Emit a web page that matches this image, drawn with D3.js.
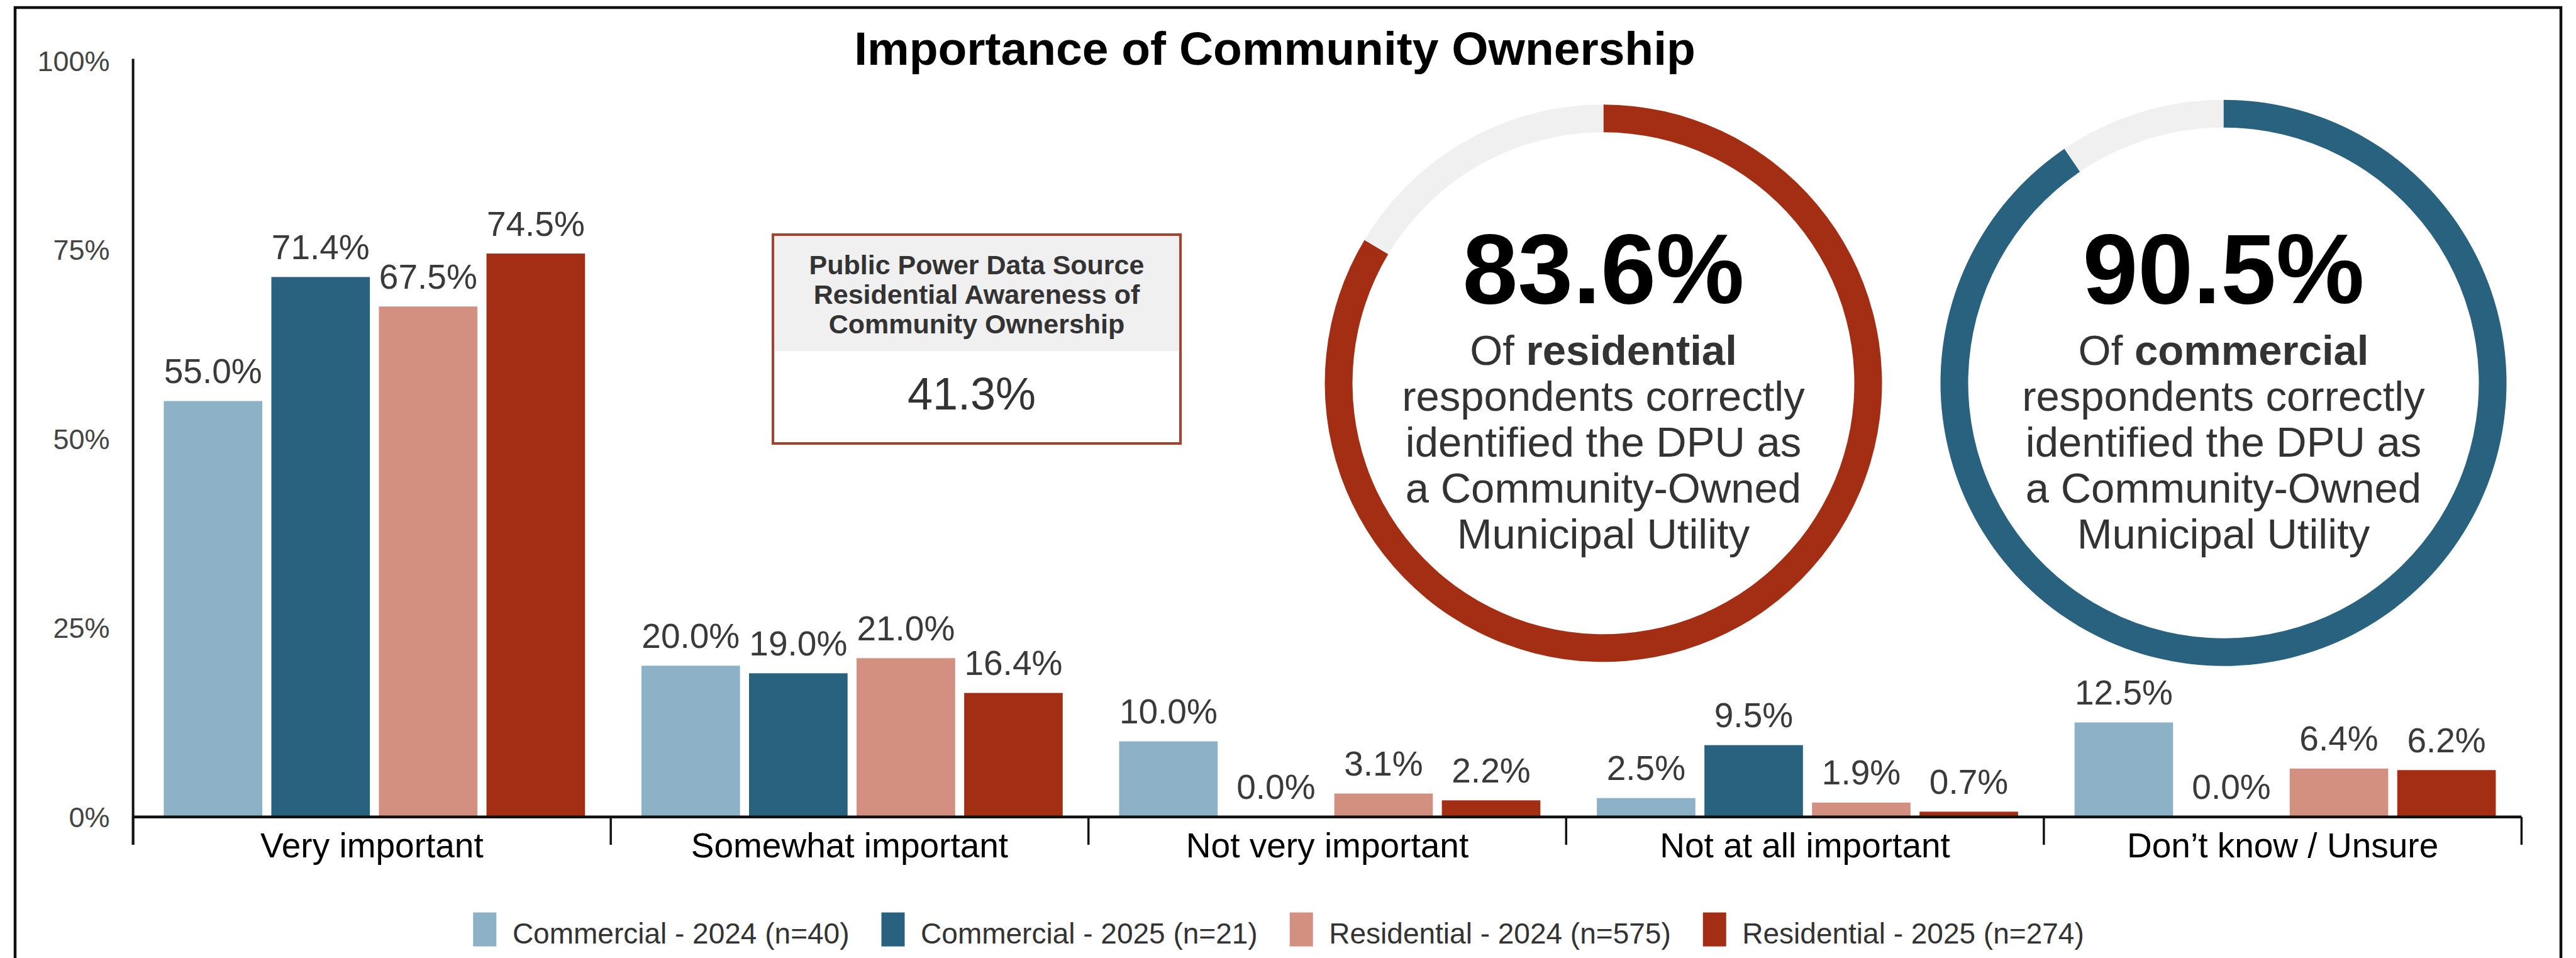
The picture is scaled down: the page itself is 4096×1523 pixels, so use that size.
<!DOCTYPE html>
<html>
<head>
<meta charset="utf-8">
<script src="https://cdn.jsdelivr.net/npm/d3@7"></script>
<style>
  html, body { margin: 0; padding: 0; background: #fff; }
  svg { display: block; font-family: "Liberation Sans", Arial, sans-serif; }
</style>
</head>
<body>
<svg id="chart" width="4096" height="1523"></svg>
<script>
// ---- data ----
const categories = ["Very important", "Somewhat important", "Not very important", "Not at all important", "Don\u2019t know / Unsure"];
const seriesNames = ["Commercial - 2024 (n=40)", "Commercial - 2025 (n=21)", "Residential - 2024 (n=575)", "Residential - 2025 (n=274)"];
const commercial2024 = [55.0, 20.0, 10.0, 2.5, 12.5];
const commercial2025 = [71.4, 19.0, 0.0, 9.5, 0.0];
const residential2024 = [67.5, 21.0, 3.1, 1.9, 6.4];
const residential2025 = [74.5, 16.4, 2.2, 0.7, 6.2];
const seriesColors = ["#8db2c7", "#29627e", "#d39080", "#a32e14"];
const yTicks = [0, 25, 50, 75, 100];

const awarenessTitle = ["Public Power Data Source", "Residential Awareness of", "Community Ownership"];
const awarenessValue = 41.3;

const donuts = [
  { value: 83.6, who: "residential", color: "#a32e14" },
  { value: 90.5, who: "commercial", color: "#29627e" }
];
const donutBody = ["respondents correctly", "identified the DPU as", "a Community-Owned", "Municipal Utility"];

const series = [commercial2024, commercial2025, residential2024, residential2025];

// ---- layout ----
const svg = d3.select("#chart");
const plotLeft = 211.6, plotRight = 4009.4, plotTop = 96.5, plotBottom = 1298.8;

// outer frame
svg.append("rect")
  .attr("x", 24).attr("y", 12).attr("width", 4048).attr("height", 1560)
  .attr("fill", "none").attr("stroke", "#111").attr("stroke-width", 4.5);

// title
svg.append("text")
  .attr("x", 2027).attr("y", 103)
  .attr("text-anchor", "middle")
  .attr("font-weight", "bold").attr("font-size", 75).attr("fill", "#000")
  .text("Importance of Community Ownership");

// scales
const x0 = d3.scaleBand().domain(categories).range([plotLeft, plotRight]).padding(0);
const bw = x0.bandwidth();
const x1 = d3.scaleBand().domain(d3.range(series.length)).range([48.8, 48.8 + 669.8]).paddingInner(0.084).paddingOuter(0);
const y = d3.scaleLinear().domain([0, 100]).range([plotBottom, plotTop]);

// y axis labels
const yAxis = svg.append("g")
  .attr("transform", `translate(${plotLeft},0)`)
  .call(d3.axisLeft(y).tickValues(yTicks).tickSize(0).tickPadding(37).tickFormat(d => d + "%"));
yAxis.select(".domain").remove();
yAxis.selectAll("text")
  .attr("font-size", 45).attr("fill", "#444").attr("font-family", "Liberation Sans, Arial, sans-serif")
  .attr("dy", "0.35em");

// bars
const groups = svg.append("g").selectAll("g")
  .data(categories)
  .join("g")
  .attr("transform", c => `translate(${x0(c)},0)`);

groups.selectAll("rect")
  .data((c, ci) => series.map((s, si) => ({ si, v: s[ci] })))
  .join("rect")
  .attr("x", d => x1(d.si))
  .attr("width", x1.bandwidth())
  .attr("y", d => y(d.v))
  .attr("height", d => y(0) - y(d.v))
  .attr("fill", d => seriesColors[d.si]);

groups.selectAll("text.val")
  .data((c, ci) => series.map((s, si) => ({ si, v: s[ci] })))
  .join("text")
  .attr("class", "val")
  .attr("x", d => x1(d.si) + x1.bandwidth() / 2)
  .attr("y", d => y(d.v) - 28.5)
  .attr("text-anchor", "middle")
  .attr("font-size", 55).attr("fill", "#3a3a3a")
  .text(d => d.v.toFixed(1) + "%");

// x axis: category labels
const xAxis = svg.append("g")
  .attr("transform", `translate(0,${plotBottom})`)
  .call(d3.axisBottom(x0).tickSize(0).tickPadding(0));
xAxis.select(".domain").remove();
xAxis.selectAll("text")
  .attr("font-size", 55).attr("fill", "#000").attr("font-family", "Liberation Sans, Arial, sans-serif")
  .attr("y", 63.8).attr("dy", 0);

// axis lines and category separators
const bounds = categories.map(c => x0(c)).concat([plotRight]);
svg.append("g").selectAll("line")
  .data(bounds)
  .join("line")
  .attr("x1", d => d).attr("x2", d => d)
  .attr("y1", plotBottom).attr("y2", 1343)
  .attr("stroke", "#111").attr("stroke-width", 3.5);
svg.append("line")
  .attr("x1", plotLeft).attr("x2", plotLeft).attr("y1", 93.6).attr("y2", 1343)
  .attr("stroke", "#111").attr("stroke-width", 4);
svg.append("line")
  .attr("x1", plotLeft).attr("x2", plotRight).attr("y1", plotBottom).attr("y2", plotBottom)
  .attr("stroke", "#111").attr("stroke-width", 4.5);

// awareness box
const box = { x: 1229, y: 373, w: 648, h: 332, headH: 185 };
const boxG = svg.append("g");
boxG.append("rect")
  .attr("x", box.x).attr("y", box.y).attr("width", box.w).attr("height", box.headH)
  .attr("fill", "#f0f0f0");
boxG.append("rect")
  .attr("x", box.x).attr("y", box.y).attr("width", box.w).attr("height", box.h)
  .attr("fill", "none").attr("stroke", "#a8402a").attr("stroke-width", 4);
boxG.selectAll("text.head")
  .data(awarenessTitle)
  .join("text")
  .attr("class", "head")
  .attr("x", box.x + box.w / 2)
  .attr("y", (d, i) => 436 + i * 47)
  .attr("text-anchor", "middle")
  .attr("font-weight", "bold").attr("font-size", 43).attr("fill", "#333")
  .text(d => d);
boxG.append("text")
  .attr("x", box.x + box.w / 2 - 8).attr("y", 651)
  .attr("text-anchor", "middle")
  .attr("font-size", 72).attr("fill", "#333")
  .text(awarenessValue.toFixed(1) + "%");

// donuts
const donutPos = [
  { cx: 2549.5, cy: 609.3, r: 443 },
  { cx: 3535.5, cy: 608.7, r: 450 }
];
const ringW = 44;
const pie = d3.pie().sort(null);
donuts.forEach((dn, i) => {
  const p = donutPos[i];
  const g = svg.append("g").attr("transform", `translate(${p.cx},${p.cy})`);
  const arc = d3.arc().innerRadius(p.r - ringW).outerRadius(p.r);
  g.selectAll("path")
    .data(pie([dn.value, 100 - dn.value]))
    .join("path")
    .attr("d", arc)
    .attr("fill", (d, k) => k === 0 ? dn.color : "#f0f0f0");
  g.append("text")
    .attr("x", 0).attr("y", 482 - p.cy)
    .attr("text-anchor", "middle")
    .attr("font-weight", "bold").attr("font-size", 158).attr("fill", "#000")
    .text(dn.value.toFixed(1) + "%");
  const first = g.append("text")
    .attr("x", 0).attr("y", 579.7 - p.cy)
    .attr("text-anchor", "middle")
    .attr("font-size", 67).attr("fill", "#333");
  first.append("tspan").text("Of ");
  first.append("tspan").attr("font-weight", "bold").text(dn.who);
  g.selectAll("text.body")
    .data(donutBody)
    .join("text")
    .attr("class", "body")
    .attr("x", 0)
    .attr("y", (d, k) => 652.6 + k * 73 - p.cy)
    .attr("text-anchor", "middle")
    .attr("font-size", 67).attr("fill", "#333")
    .text(d => d);
});

// legend
const legend = svg.append("g");
const swW = 37, swH = 54, swGap = 25.6, itemGap = 51;
const items = legend.selectAll("g")
  .data(seriesNames)
  .join("g");
items.append("rect")
  .attr("x", 0).attr("y", 1450.6).attr("width", swW).attr("height", swH)
  .attr("fill", (d, i) => seriesColors[i]);
items.append("text")
  .attr("x", swW + swGap).attr("y", 1500)
  .attr("font-size", 46).attr("fill", "#333")
  .text(d => d);
let widths = [];
items.each(function () { widths.push(swW + swGap + d3.select(this).select("text").node().getComputedTextLength()); });
const total = d3.sum(widths) + itemGap * (widths.length - 1);
let cursor = 2033 - total / 2;
items.attr("transform", (d, i) => {
  const t = `translate(${cursor},0)`;
  cursor += widths[i] + itemGap;
  return t;
});
</script>
</body>
</html>
